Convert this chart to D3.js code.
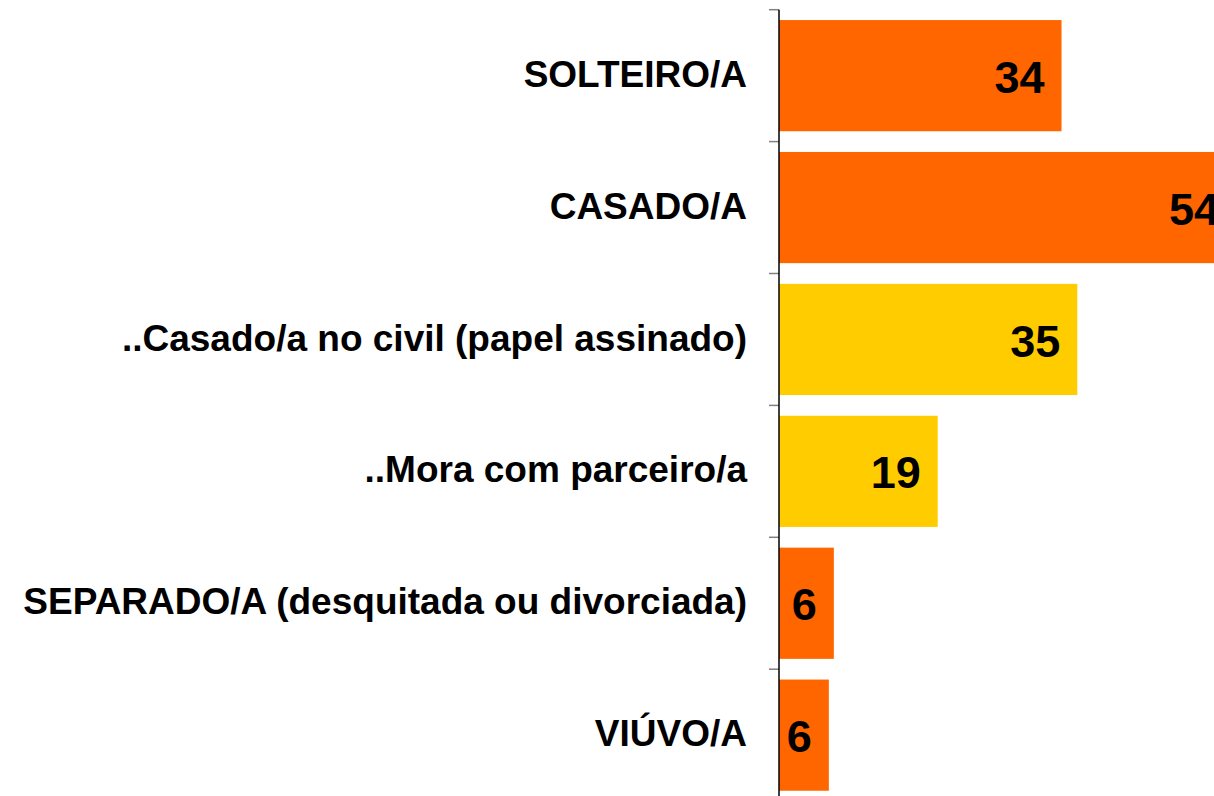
<!DOCTYPE html>
<html>
<head>
<meta charset="utf-8">
<script src="https://cdn.jsdelivr.net/npm/d3@7/dist/d3.min.js"></script>
<style>
  html, body { margin: 0; padding: 0; background: #fff; overflow: hidden; }
  svg { display: block; }
  text { font-family: "Liberation Sans", Arial, Helvetica, sans-serif; font-weight: bold; }
</style>
</head>
<body>
<svg id="chart" width="1214" height="796"></svg>
<script>
const categories = [
  "SOLTEIRO/A",
  "CASADO/A",
  "..Casado/a no civil (papel assinado)",
  "..Mora com parceiro/a",
  "SEPARADO/A (desquitada ou divorciada)",
  "VIÚVO/A"
];
// bar lengths
const values = [34, 55, 35.9, 19.1, 6.6, 6.0];
// value labels as printed
const valueLabels = ["34", "54", "35", "19", "6", "6"];
const groups = ["main", "main", "sub", "sub", "main", "main"];
const colors = { main: "#FF6600", sub: "#FFCC00" };

const svg = d3.select("#chart");
const axisX = 779;
const plotTop = 9.7, step = 131.9;

const x = d3.scaleLinear().domain([0, 52.35]).range([axisX, 1214]);
const y = d3.scaleBand()
  .domain(categories)
  .range([plotTop, plotTop + step * categories.length])
  .paddingInner(0.157)
  .paddingOuter(0.157 / 2);

// bars
svg.selectAll("rect.bar").data(categories).join("rect")
  .attr("class", "bar")
  .attr("x", x(0))
  .attr("y", d => y(d))
  .attr("width", (d, i) => x(values[i]) - x(0))
  .attr("height", y.bandwidth())
  .attr("fill", (d, i) => colors[groups[i]]);

// value labels
svg.selectAll("text.val").data(categories).join("text")
  .attr("class", "val")
  .attr("x", (d, i) => x(values[i]) - 17)
  .attr("y", d => y(d) + y.bandwidth() / 2)
  .attr("dy", "0.38em")
  .attr("text-anchor", "end")
  .attr("font-size", 45)
  .attr("fill", "#000")
  .text((d, i) => valueLabels[i]);

// category labels
svg.selectAll("text.cat").data(categories).join("text")
  .attr("class", "cat")
  .attr("x", axisX - 32)
  .attr("y", d => y(d) + y.bandwidth() / 2)
  .attr("dy", "0.30em")
  .attr("text-anchor", "end")
  .attr("font-size", 37)
  .attr("fill", "#000")
  .text(d => d);

// tick marks at band boundaries
const tickYs = categories.map((d, i) => plotTop + i * y.step());
svg.selectAll("line.tick").data(tickYs).join("line")
  .attr("class", "tick")
  .attr("x1", axisX - 10).attr("x2", axisX)
  .attr("y1", d => d).attr("y2", d => d)
  .attr("stroke", "#808080").attr("stroke-width", 1.5);

// axis line
svg.append("line")
  .attr("x1", axisX).attr("x2", axisX)
  .attr("y1", plotTop).attr("y2", 796)
  .attr("stroke", "#000").attr("stroke-width", 1.5);
</script>
</body>
</html>
